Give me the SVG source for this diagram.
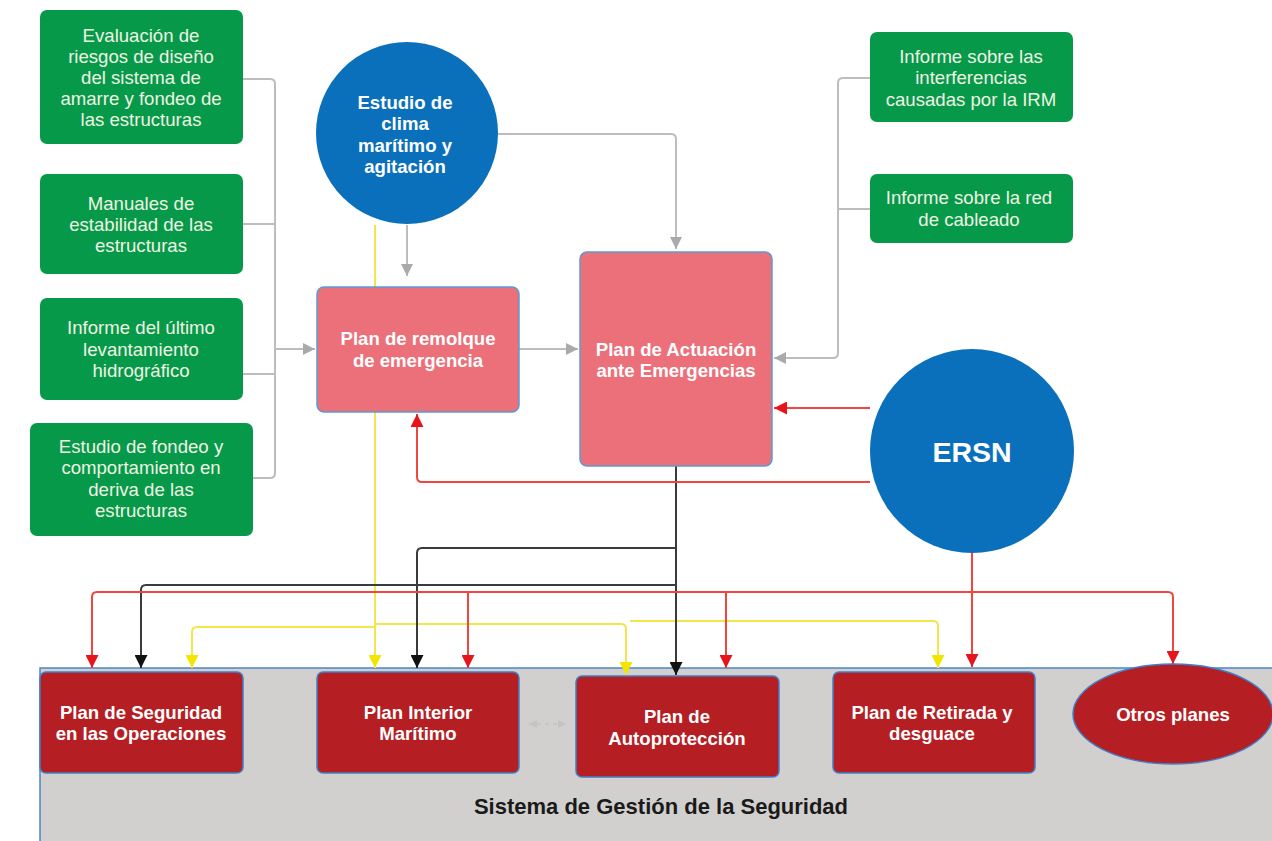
<svg xmlns="http://www.w3.org/2000/svg" width="1272" height="841" viewBox="0 0 1272 841">
  <style>
    .green { fill: #07994a; }
    .pink { fill: #ec707a; stroke: #5b9bd5; stroke-width: 1.5; }
    .plan { fill: #b51f24; stroke: #3f7fc8; stroke-width: 1.5; }
    .disc { fill: #0b70bb; }
    .t { font-family: "Liberation Sans", Arial, sans-serif; font-size: 18.6px; text-anchor: middle; }
    .tg { fill: #eef4e2; }
    .tb { fill: #ffffff; font-weight: bold; }
    .big { font-size: 28.5px; }
    .title { font-size: 22px; font-weight: bold; fill: #1a1a1a; }
    .gray { fill: none; stroke: #bdbdbd; stroke-width: 2; }
    .red { fill: none; stroke: #f1453f; stroke-width: 2; }
    .blk { fill: none; stroke: #3a3a3a; stroke-width: 2; }
    .yel { fill: none; stroke: #f1e64a; stroke-width: 2; }
  </style>
  <defs>
    <marker id="ah-gray" viewBox="0 0 10 10" refX="10" refY="5" markerWidth="12" markerHeight="12" markerUnits="userSpaceOnUse" orient="auto">
      <path d="M0,0 L10,5 L0,10 z" fill="#aaaaaa"/>
    </marker>
    <marker id="ah-red" viewBox="0 0 10 10" refX="10" refY="5" markerWidth="13" markerHeight="13" markerUnits="userSpaceOnUse" orient="auto">
      <path d="M0,0 L10,5 L0,10 z" fill="#e8141c"/>
    </marker>
    <marker id="ah-blk" viewBox="0 0 10 10" refX="10" refY="5" markerWidth="13" markerHeight="13" markerUnits="userSpaceOnUse" orient="auto">
      <path d="M0,0 L10,5 L0,10 z" fill="#111111"/>
    </marker>
    <marker id="ah-yel" viewBox="0 0 10 10" refX="10" refY="5" markerWidth="13" markerHeight="13" markerUnits="userSpaceOnUse" orient="auto">
      <path d="M0,0 L10,5 L0,10 z" fill="#f2e600"/>
    </marker>
    <marker id="ah-faint" viewBox="0 0 10 10" refX="10" refY="5" markerWidth="8" markerHeight="8" markerUnits="userSpaceOnUse" orient="auto-start-reverse">
      <path d="M0,0 L10,5 L0,10 z" fill="#c4c2c2"/>
    </marker>
  </defs>

  <rect width="1272" height="841" fill="#ffffff"/>

  <!-- Safety management system band -->
  <g id="sistema">
    <rect x="40" y="668" width="1250" height="190" fill="#d2d0cf" stroke="#4a86c8" stroke-width="1.5"/>
    <text class="t title" x="661" y="814">Sistema de Gestión de la Seguridad</text>
  </g>

  <!-- Connectors -->
  <g id="connectors">
    <!-- left input documents bus -->
    <path class="gray" d="M243,79 H270 Q275,79 275,84 V473 Q275,478 270,478 H253"/>
    <path class="gray" d="M243,224 H275"/>
    <path class="gray" d="M243,374 H275"/>
    <path class="gray" d="M275,349 H315" marker-end="url(#ah-gray)"/>
    <!-- weather study -->
    <path class="gray" d="M407,225 V276" marker-end="url(#ah-gray)"/>
    <path class="gray" d="M498,134 H671 Q676,134 676,139 V249" marker-end="url(#ah-gray)"/>
    <!-- towing plan to emergency plan -->
    <path class="gray" d="M519,349 H578" marker-end="url(#ah-gray)"/>
    <!-- right input documents bus -->
    <path class="gray" d="M870,78 H843 Q838,78 838,83 V353 Q838,358 833,358 H774" marker-end="url(#ah-gray)"/>
    <path class="gray" d="M870,209 H838"/>

    <!-- yellow: weather study to lower plans -->
    <path class="yel" d="M375,225 V668" marker-end="url(#ah-yel)"/>
    <path class="yel" d="M375,627 H197 Q192,627 192,632 V668" marker-end="url(#ah-yel)"/>
    <path class="yel" d="M375,624 H621 Q626,624 626,629 V675" marker-end="url(#ah-yel)"/>
    <path class="yel" d="M630,621 H933 Q938,621 938,626 V668" marker-end="url(#ah-yel)"/>

    <!-- black: emergency plan to lower plans -->
    <path class="blk" d="M676,466 V675" marker-end="url(#ah-blk)"/>
    <path class="blk" d="M676,548 H422 Q417,548 417,553 V668" marker-end="url(#ah-blk)"/>
    <path class="blk" d="M676,585 H146 Q141,585 141,590 V668" marker-end="url(#ah-blk)"/>

    <!-- red: ERSN -->
    <path class="red" d="M870,408 H774" marker-end="url(#ah-red)"/>
    <path class="red" d="M870,482 H422 Q417,482 417,477 V414" marker-end="url(#ah-red)"/>
    <path class="red" d="M972,553 V667" marker-end="url(#ah-red)"/>
    <path class="red" d="M972,592 H97 Q92,592 92,597 V668" marker-end="url(#ah-red)"/>
    <path class="red" d="M972,592 H1168 Q1173,592 1173,597 V664" marker-end="url(#ah-red)"/>
    <path class="red" d="M468,592 V668" marker-end="url(#ah-red)"/>
    <path class="red" d="M726,592 V668" marker-end="url(#ah-red)"/>

    <!-- faint link between inner maritime plan and self-protection plan -->
    <path d="M529,724 H566" fill="none" stroke="#c4c2c2" stroke-width="1.5" stroke-dasharray="4 4" marker-start="url(#ah-faint)" marker-end="url(#ah-faint)"/>
  </g>

  <!-- Input documents (left) -->
  <g id="evaluacion">
    <rect class="green" x="40" y="10" width="203" height="134" rx="7"/>
    <text class="t tg" x="141" y="42">Evaluación de</text>
    <text class="t tg" x="141" y="63">riesgos de diseño</text>
    <text class="t tg" x="141" y="84">del sistema de</text>
    <text class="t tg" x="141" y="105">amarre y fondeo de</text>
    <text class="t tg" x="141" y="126">las estructuras</text>
  </g>
  <g id="manuales">
    <rect class="green" x="40" y="174" width="203" height="100" rx="7"/>
    <text class="t tg" x="141" y="210">Manuales de</text>
    <text class="t tg" x="141" y="231">estabilidad de las</text>
    <text class="t tg" x="141" y="252">estructuras</text>
  </g>
  <g id="levantamiento">
    <rect class="green" x="40" y="298" width="203" height="102" rx="7"/>
    <text class="t tg" x="141" y="334">Informe del último</text>
    <text class="t tg" x="141" y="356">levantamiento</text>
    <text class="t tg" x="141" y="377">hidrográfico</text>
  </g>
  <g id="fondeo">
    <rect class="green" x="30" y="423" width="223" height="113" rx="7"/>
    <text class="t tg" x="141" y="453">Estudio de fondeo y</text>
    <text class="t tg" x="141" y="474">comportamiento en</text>
    <text class="t tg" x="141" y="496">deriva de las</text>
    <text class="t tg" x="141" y="517">estructuras</text>
  </g>

  <!-- Weather study -->
  <g id="clima">
    <circle class="disc" cx="407" cy="133" r="91"/>
    <text class="t tb" x="405" y="109">Estudio de</text>
    <text class="t tb" x="405" y="130">clima</text>
    <text class="t tb" x="405" y="152">marítimo y</text>
    <text class="t tb" x="405" y="173">agitación</text>
  </g>

  <!-- Input documents (right) -->
  <g id="interferencias">
    <rect class="green" x="870" y="32" width="203" height="90" rx="7"/>
    <text class="t tg" x="971" y="63">Informe sobre las</text>
    <text class="t tg" x="971" y="84">interferencias</text>
    <text class="t tg" x="971" y="106">causadas por la IRM</text>
  </g>
  <g id="cableado">
    <rect class="green" x="870" y="174" width="203" height="69" rx="7"/>
    <text class="t tg" x="969" y="204">Informe sobre la red</text>
    <text class="t tg" x="969" y="226">de cableado</text>
  </g>

  <!-- Emergency plans -->
  <g id="remolque">
    <rect class="pink" x="317" y="287" width="202" height="125" rx="7"/>
    <text class="t tb" x="418" y="345">Plan de remolque</text>
    <text class="t tb" x="418" y="367">de emergencia</text>
  </g>
  <g id="actuacion">
    <rect class="pink" x="580" y="252" width="192" height="214" rx="7"/>
    <text class="t tb" x="676" y="356">Plan de Actuación</text>
    <text class="t tb" x="676" y="377">ante Emergencias</text>
  </g>

  <!-- ERSN -->
  <g id="ersn">
    <circle class="disc" cx="972" cy="451" r="102"/>
    <text class="t tb big" x="972" y="462">ERSN</text>
  </g>

  <!-- Lower plans -->
  <g id="seguridad-operaciones">
    <rect class="plan" x="40" y="672" width="203" height="101" rx="6"/>
    <text class="t tb" x="141" y="719">Plan de Seguridad</text>
    <text class="t tb" x="141" y="740">en las Operaciones</text>
  </g>
  <g id="interior-maritimo">
    <rect class="plan" x="317" y="672" width="202" height="101" rx="6"/>
    <text class="t tb" x="418" y="719">Plan Interior</text>
    <text class="t tb" x="418" y="740">Marítimo</text>
  </g>
  <g id="autoproteccion">
    <rect class="plan" x="576" y="676" width="203" height="101" rx="6"/>
    <text class="t tb" x="677" y="723">Plan de</text>
    <text class="t tb" x="677" y="745">Autoprotección</text>
  </g>
  <g id="retirada">
    <rect class="plan" x="833" y="672" width="202" height="101" rx="6"/>
    <text class="t tb" x="932" y="719">Plan de Retirada y</text>
    <text class="t tb" x="932" y="740">desguace</text>
  </g>
  <g id="otros">
    <ellipse class="plan" cx="1173" cy="714" rx="100" ry="50"/>
    <text class="t tb" x="1173" y="721">Otros planes</text>
  </g>
</svg>
